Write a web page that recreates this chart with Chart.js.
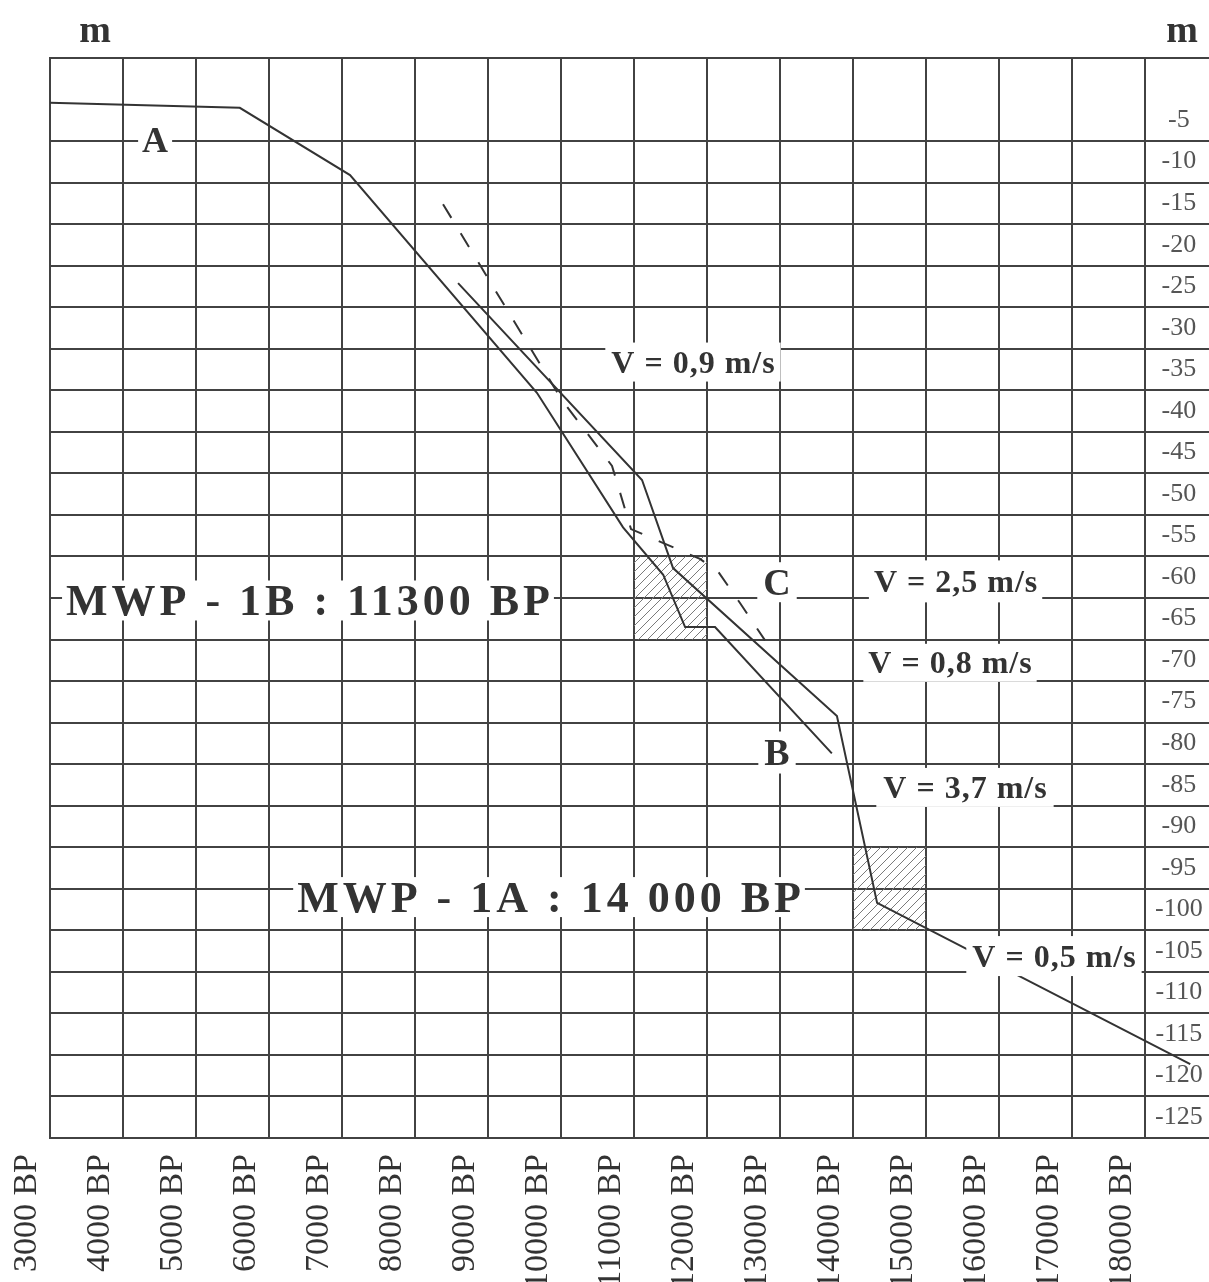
<!DOCTYPE html>
<html>
<head>
<meta charset="utf-8">
<title>Sea level curves</title>
<script src="https://cdn.jsdelivr.net/npm/chart.js@4.4.1/dist/chart.umd.min.js"></script>
<style>
  html, body { margin: 0; padding: 0; background: #fff; }
  #wrap { width: 1209px; height: 1282px; position: relative; }
</style>
</head>
<body>
<div id="wrap"><canvas id="seaChart"></canvas></div>
<script>

// ---- axis ticks ----
const ageTicks = [3000, 4000, 5000, 6000, 7000, 8000, 9000, 10000, 11000,
                  12000, 13000, 14000, 15000, 16000, 17000, 18000];
const ageLabels = ['3000 BP', '4000 BP', '5000 BP', '6000 BP', '7000 BP', '8000 BP',
                   '9000 BP', '10000 BP', '11000 BP', '12000 BP', '13000 BP', '14000 BP',
                   '15000 BP', '16000 BP', '17000 BP', '18000 BP'];

// horizontal grid lines (m), the depth label sits in the row above each line
const depthLines = [2.5, -7.5, -12.5, -17.5, -22.5, -27.5, -32.5, -37.5, -42.5,
                    -47.5, -52.5, -57.5, -62.5, -67.5, -72.5, -77.5, -82.5, -87.5,
                    -92.5, -97.5, -102.5, -107.5, -112.5, -117.5, -122.5, -127.5];
const depthLabels = ['', '-5', '-10', '-15', '-20', '-25', '-30', '-35', '-40',
                     '-45', '-50', '-55', '-60', '-65', '-70', '-75', '-80', '-85',
                     '-90', '-95', '-100', '-105', '-110', '-115', '-120', '-125'];

// ---- curves ----
// solid curve starting at 3000 BP (label A), ending near label B
const curve1Age   = [3000, 5600, 7110, 9670, 10850, 11400, 11700, 12110, 13710];
const curve1Depth = [-2.9, -3.5, -11.6, -37.8, -54.0, -59.7, -66.0, -66.0, -81.2];

// long solid curve down to -120 m
const curve2Age   = [8590, 11110, 11535, 13780, 14330, 18620];
const curve2Depth = [-24.6, -48.3, -58.9, -76.7, -99.2, -118.6];

// dashed curve C
const curveCAge   = [8384, 10014, 10699, 10959, 11904, 12151, 12452, 12795];
const curveCDepth = [-15.1, -38.7, -46.6, -54.2, -57.8, -59.3, -63.1, -67.6];

// hatched windows of the melt water pulses
const pulse1B = { ages: [11000, 12000], top: -57.5, bottom: -67.5 };
const pulse1A = { ages: [14000, 15000], top: -92.5, bottom: -102.5 };

const gridColor = '#424242';
const inkColor = '#333';
const serif = '"Liberation Serif", "Times New Roman", serif';

function pts(xs, ys) {
    return xs.map((x, i) => ({ x: x, y: ys[i] }));
}

function edge(p, depth) {
    return p.ages.map(a => ({ x: a, y: depth }));
}

function hatch() {
    const c = document.createElement('canvas');
    c.width = 9; c.height = 9;
    const g = c.getContext('2d');
    g.strokeStyle = '#7a7a7a';
    g.lineWidth = 1;
    g.beginPath();
    g.moveTo(0, 9); g.lineTo(9, 0);
    g.moveTo(-4.5, 4.5); g.lineTo(4.5, -4.5);
    g.moveTo(4.5, 13.5); g.lineTo(13.5, 4.5);
    g.stroke();
    return g.createPattern(c, 'repeat');
}

// ---- text on the chart (age / depth of the text centre) ----
const notes = [
    { text: 'm', age: 3616, depth: 5.9, size: 38 },
    { text: 'm', age: 18507, depth: 5.9, size: 38 },
    { text: 'A', age: 4440, depth: -7.4, size: 36, padX: 4, boxH: 30 },
    { text: 'V = 0,9 m/s', age: 11808, depth: -34.1, size: 32, spacing: 1, padX: 6, boxH: 39 },
    { text: 'MWP - 1B : 11300 BP', age: 6534, depth: -62.8, size: 44, spacing: 4, padX: 4, boxH: 40 },
    { text: 'C', age: 12959, depth: -60.6, size: 38, padX: 6, boxH: 40 },
    { text: 'V = 2,5 m/s', age: 15405, depth: -60.5, size: 32, spacing: 1, padX: 5, boxH: 42 },
    { text: 'V = 0,8 m/s', age: 15329, depth: -70.3, size: 32, spacing: 1, padX: 5, boxH: 38 },
    { text: 'B', age: 12959, depth: -81.1, size: 38, padX: 6, boxH: 42 },
    { text: 'V = 3,7 m/s', age: 15534, depth: -85.3, size: 32, spacing: 1, padX: 7, boxH: 39 },
    { text: 'MWP - 1A : 14 000 BP', age: 9836, depth: -98.5, size: 44, spacing: 4, padX: 4, boxH: 40 },
    { text: 'V = 0,5 m/s', age: 16753, depth: -105.6, size: 32, spacing: 1, padX: 6, boxH: 40 }
];

const notePlugin = {
    id: 'notes',
    afterDatasetsDraw(chart) {
        const { ctx, scales: { x, y } } = chart;
        ctx.save();
        notes.forEach(n => {
            const px = x.getPixelForValue(n.age);
            const py = y.getPixelForValue(n.depth);
            ctx.font = `bold ${n.size}px ${serif}`;
            ctx.letterSpacing = (n.spacing || 0) + 'px';
            const w = ctx.measureText(n.text).width - (n.spacing || 0);
            if (n.boxH) {
                ctx.fillStyle = '#fff';
                ctx.fillRect(px - w / 2 - n.padX, py - n.boxH / 2, w + 2 * n.padX, n.boxH);
            }
            ctx.fillStyle = inkColor;
            ctx.textAlign = 'left';
            ctx.textBaseline = 'alphabetic';
            ctx.fillText(n.text, px - w / 2, py + n.size * 0.33);
        });
        ctx.restore();
    }
};

const lineStyle = {
    borderColor: inkColor,
    borderWidth: 2,
    pointRadius: 0,
    tension: 0,
    fill: false
};

const pattern = hatch();

new Chart(document.getElementById('seaChart'), {
    type: 'line',
    data: {
        datasets: [
            Object.assign({ label: 'A - B', data: pts(curve1Age, curve1Depth) }, lineStyle),
            Object.assign({ label: 'main', data: pts(curve2Age, curve2Depth), clip: false }, lineStyle),
            Object.assign({ label: 'C', data: pts(curveCAge, curveCDepth), borderDash: [16, 18] }, lineStyle),
            { label: 'MWP-1B', data: edge(pulse1B, pulse1B.top), borderWidth: 0, pointRadius: 0,
              fill: '+1', backgroundColor: pattern },
            { label: 'MWP-1B low', data: edge(pulse1B, pulse1B.bottom), borderWidth: 0, pointRadius: 0, fill: false },
            { label: 'MWP-1A', data: edge(pulse1A, pulse1A.top), borderWidth: 0, pointRadius: 0,
              fill: '+1', backgroundColor: pattern },
            { label: 'MWP-1A low', data: edge(pulse1A, pulse1A.bottom), borderWidth: 0, pointRadius: 0, fill: false }
        ]
    },
    options: {
        responsive: true,
        maintainAspectRatio: false,
        animation: false,
        devicePixelRatio: 1,
        layout: { padding: { top: 58, left: 0, right: 0, bottom: 0 } },
        plugins: {
            legend: { display: false },
            tooltip: { enabled: false }
        },
        scales: {
            x: {
                type: 'linear',
                min: 3000,
                max: 18000,
                afterBuildTicks: s => { s.ticks = ageTicks.map(v => ({ value: v })); },
                afterFit: s => { s.height = 144; },
                grid: { color: gridColor, lineWidth: 2, drawTicks: false },
                border: { color: gridColor, width: 2 },
                ticks: {
                    autoSkip: false,
                    minRotation: 90,
                    maxRotation: 90,
                    labelOffset: -23,
                    padding: 16,
                    color: inkColor,
                    font: { family: serif, size: 34 },
                    callback: (v, i) => ageLabels[i]
                }
            },
            y: {
                position: 'left',
                min: -127.5,
                max: 2.5,
                afterBuildTicks: s => { s.ticks = depthLines.map(v => ({ value: v })); },
                afterFit: s => { s.width = 50; },
                grid: { color: gridColor, lineWidth: 2, drawTicks: false },
                border: { color: gridColor, width: 2 },
                ticks: { display: false }
            },
            y2: {
                position: 'right',
                min: -127.5,
                max: 2.5,
                afterBuildTicks: s => { s.ticks = depthLines.map(v => ({ value: v })); },
                afterFit: s => { s.width = 64; },
                grid: { drawOnChartArea: false, drawTicks: true, tickLength: 64, color: gridColor, lineWidth: 2 },
                border: { display: false },
                ticks: {
                    autoSkip: false,
                    crossAlign: 'center',
                    padding: -54,
                    labelOffset: -21,
                    color: '#555',
                    font: { family: serif, size: 26 },
                    callback: (v, i) => depthLabels[i]
                }
            }
        }
    },
    plugins: [notePlugin]
});
</script>
</body>
</html>
